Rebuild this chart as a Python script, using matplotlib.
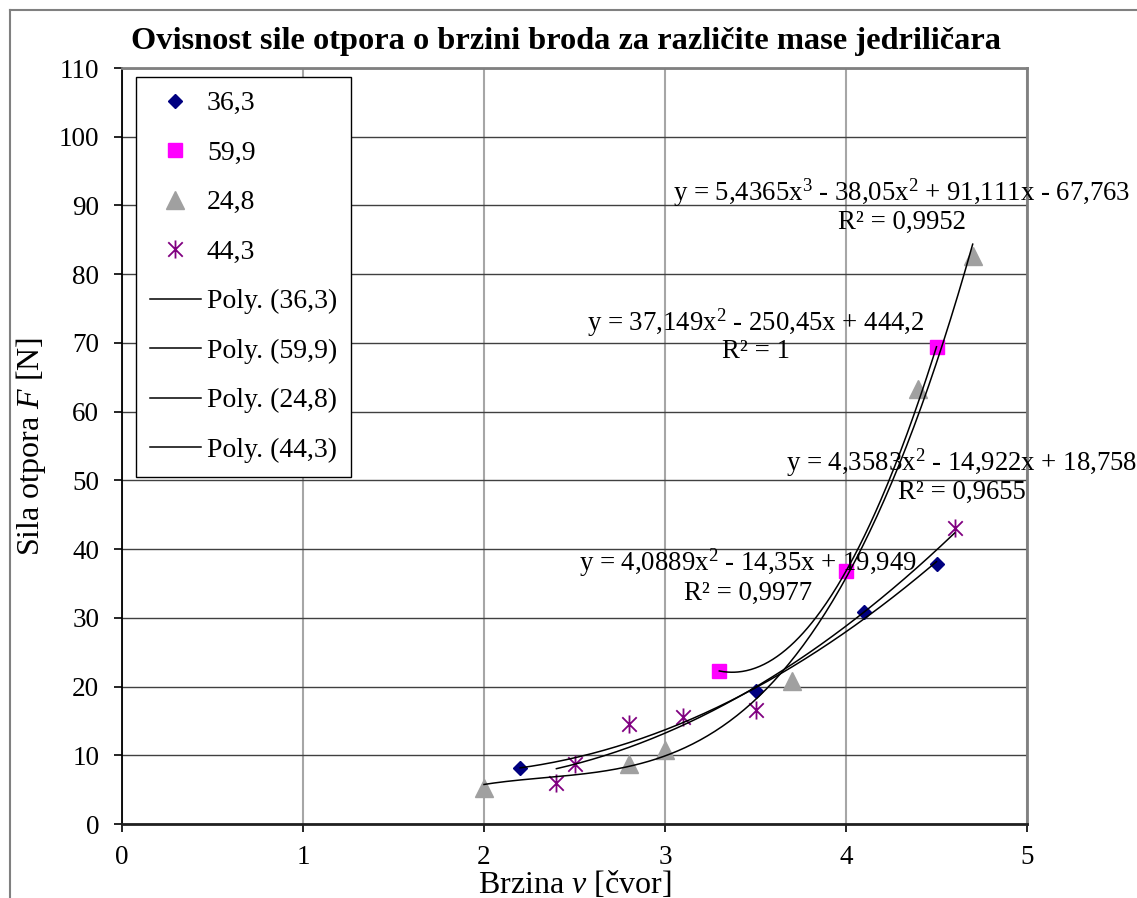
import numpy as np
import matplotlib
matplotlib.use("Agg")
import matplotlib.pyplot as plt
from matplotlib.path import Path
from matplotlib.lines import Line2D

plt.rcParams['font.family'] = ['Liberation Serif', 'DejaVu Serif']
plt.rcParams['mathtext.fontset'] = 'custom'
plt.rcParams['mathtext.rm'] = 'Liberation Serif'
plt.rcParams['mathtext.it'] = 'Liberation Serif:italic'

# Measured drag force F [N] versus boat speed v [knots] for four sailor masses
labels = ["36,3", "59,9", "24,8", "44,3"]

v_363 = [2.2, 3.5, 4.1, 4.5]
F_363 = [8.2, 19.4, 30.8, 37.8]

v_599 = [3.3, 4.0, 4.5]
F_599 = [22.3, 36.8, 69.4]

v_248 = [2.0, 2.8, 3.0, 3.7, 4.4, 4.7]
F_248 = [5.3, 8.8, 10.7, 20.8, 63.3, 82.6]

v_443 = [2.4, 2.5, 2.8, 3.1, 3.5, 4.6]
F_443 = [5.9, 8.7, 14.6, 15.6, 16.6, 43.0]

# Polynomial trendline coefficients (highest power first) and R^2
coef_363 = [4.0889, -14.35, 19.949]
coef_599 = [37.149, -250.45, 444.2]
coef_248 = [5.4365, -38.05, 91.111, -67.763]
coef_443 = [4.3583, -14.922, 18.758]
r2_363, r2_599, r2_248, r2_443 = "0,9977", "1", "0,9952", "0,9655"

x_ticks = [0, 1, 2, 3, 4, 5]
y_ticks = list(range(0, 111, 10))

fig = plt.figure(figsize=(11.37, 8.98), dpi=100)
ax = fig.add_axes([122 / 1137, 1 - 824 / 898, 905 / 1137, 756 / 898])

# asterisk marker: vertical bar crossed by an X
star = Path([(0, -1), (0, 1), (-0.8, -0.8), (0.8, 0.8), (-0.8, 0.8), (0.8, -0.8)],
            [Path.MOVETO, Path.LINETO, Path.MOVETO, Path.LINETO, Path.MOVETO, Path.LINETO])

h1, = ax.plot(v_363, F_363, ls='none', marker='D', ms=7.2, color='#000080', zorder=4)
h2, = ax.plot(v_599, F_599, ls='none', marker='s', ms=10.5, color='#FF00FF', zorder=4)
h3, = ax.plot(v_248, F_248, ls='none', marker='^', ms=13.5, color='#A0A0A0', zorder=4)
h4, = ax.plot(v_443, F_443, ls='none', marker=star, ms=13, mew=1.3, color='#800080', zorder=4)

trend_handles = []
for v, coef in [(v_363, coef_363), (v_599, coef_599), (v_248, coef_248), (v_443, coef_443)]:
    xs = np.linspace(min(v), max(v), 200)
    th, = ax.plot(xs, np.polyval(coef, xs), color='black', lw=1.1, zorder=5)
    trend_handles.append(th)


def fmt(c):
    return f"{abs(c):g}".replace('.', ',')


def equation(coef):
    deg = len(coef) - 1
    parts = []
    for i, c in enumerate(coef):
        p = deg - i
        term = fmt(c)
        if p >= 2:
            term += r"x$^{%d}$" % p
        elif p == 1:
            term += "x"
        if i == 0:
            parts.append(("- " if c < 0 else "") + term)
        else:
            parts.append(("- " if c < 0 else "+ ") + term)
    return "y = " + " ".join(parts)


eq_fs = 19.3
for coef, r2, (x, y_eq, y_r2) in [
        (coef_248, r2_248, (4.309, 91.8, 87.6)),
        (coef_599, r2_599, (3.503, 72.9, 68.7)),
        (coef_443, r2_443, (4.641, 52.5, 48.2)),
        (coef_363, r2_363, (3.459, 38.0, 33.6))]:
    ax.text(x, y_eq, equation(coef), ha='center', va='center', fontsize=eq_fs, zorder=6)
    ax.text(x, y_r2, "R² = " + r2, ha='center', va='center', fontsize=eq_fs, zorder=6)

ax.set_xlim(0, 5)
ax.set_ylim(0, 110)
ax.set_xticks(x_ticks)
ax.set_yticks(y_ticks)
ax.tick_params(labelsize=19.5, length=5.8, width=1.2, direction='out', color='black')
ax.tick_params(axis='x', pad=9)
ax.tick_params(axis='y', pad=10.5)

ax.xaxis.grid(True, color='#A6A6A6', lw=1.5)
ax.yaxis.grid(True, color='#404040', lw=1.0)
ax.set_axisbelow(True)

for side in ['top', 'right']:
    ax.spines[side].set_color('#808080')
    ax.spines[side].set_linewidth(2.0)
ax.spines['left'].set_color('black')
ax.spines['left'].set_linewidth(1.3)
ax.spines['bottom'].set_color('#202020')
ax.spines['bottom'].set_linewidth(2.0)

ax.set_xlabel(r"Brzina $\mathit{v}$ [čvor]", fontsize=23, labelpad=-0.5)
ax.set_ylabel(r"Sila otpora $\mathit{F}$ [N]", fontsize=23, labelpad=8)

leg = ax.legend([h1, h2, h3, h4] + trend_handles,
                labels + [f"Poly. ({l})" for l in labels],
                loc='upper left', bbox_to_anchor=(0.0155, 0.988),
                fontsize=20, frameon=True, fancybox=False, framealpha=1,
                edgecolor='black', labelspacing=0.865, handlelength=1.83,
                handletextpad=0.22, borderpad=0.5, borderaxespad=0)
leg.get_frame().set_linewidth(1.0)

fig.text(566 / 1137, 1 - 42 / 898,
         "Ovisnost sile otpora o brzini broda za različite mase jedriličara",
         ha='center', va='center', fontsize=23.3, fontweight='bold')

# chart frame (top and left edges)
fig.add_artist(Line2D([10 / 1137, 10 / 1137], [0, 1 - 10 / 898], color='#808080', lw=1.5,
                      transform=fig.transFigure))
fig.add_artist(Line2D([10 / 1137, 1], [1 - 10 / 898, 1 - 10 / 898], color='#808080', lw=1.5,
                      transform=fig.transFigure))

fig.savefig("out.png", dpi=100)
